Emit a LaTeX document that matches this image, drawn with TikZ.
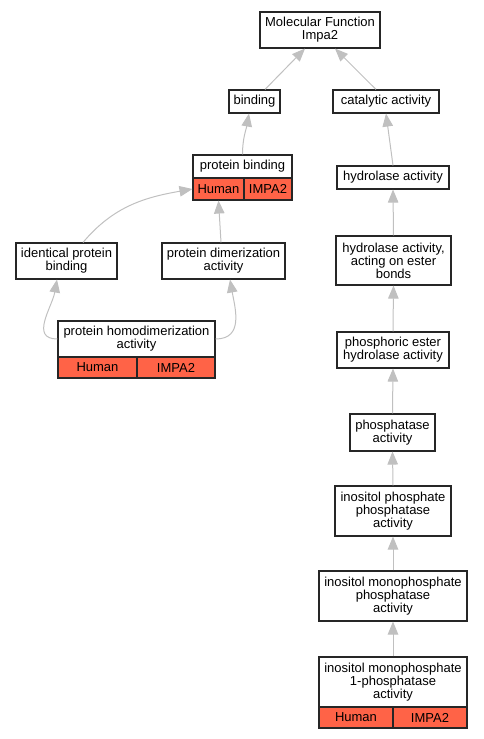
\documentclass[tikz,border=0pt]{standalone}
\usepackage{fontspec}
\setmainfont{Liberation Sans}
\usetikzlibrary{arrows.meta}

\definecolor{hitred}{HTML}{FF6347}
\definecolor{edgegray}{HTML}{C0C0C0}

\begin{document}
\begin{tikzpicture}[x = 1pt, y = -1pt,
  term/.style = {draw = black!85, line width = 1.1pt, fill = white, align = center, inner sep = 0pt, font = \fontsize{13}{13}\selectfont},
  hit/.style = {term, fill = hitred},
  link/.style = {draw = edgegray, line width = 1pt, -{Triangle[length = 13pt, width = 10.5pt]}}]

\useasboundingbox (0, 0) rectangle (483, 739);

% Root and first level
  \node[term, minimum width = 120, minimum height = 36] (mf) at (320, 30) {Molecular Function\\Impa2};
  \node[term, minimum width = 51, minimum height = 23] (bind) at (254.5, 101.5) {binding};
  \node[term, minimum width = 106, minimum height = 23] (cat) at (386, 101.5) {catalytic activity};

% Binding branch
  \node[term, minimum width = 99, minimum height = 23] (pb) at (242.5, 166.5) {protein binding};
  \node[hit, minimum width = 51, minimum height = 22] (pbh) at (218.5, 189) {Human};
  \node[hit, minimum width = 48, minimum height = 22] (pbi) at (268, 189) {IMPA2};

  \node[term, minimum width = 101, minimum height = 36] (ipb) at (66.5, 261) {identical protein\\binding};
  \node[term, minimum width = 123, minimum height = 36] (pdim) at (223.5, 261) {protein dimerization\\activity};

  \node[term, minimum width = 157, minimum height = 36] (hd) at (136.5, 339) {protein homodimerization\\activity};
  \node[hit, minimum width = 79, minimum height = 21] (hdh) at (97.5, 367.5) {Human};
  \node[hit, minimum width = 78, minimum height = 21] (hdi) at (176, 367.5) {IMPA2};

% Catalytic branch
  \node[term, minimum width = 112, minimum height = 23] (hyd) at (393, 177.5) {hydrolase activity};
  \node[term, minimum width = 115, minimum height = 49] (hae) at (393.5, 260.5) {hydrolase activity,\\acting on ester\\bonds};
  \node[term, minimum width = 112, minimum height = 36] (phe) at (393, 350) {phosphoric ester\\hydrolase activity};
  \node[term, minimum width = 85, minimum height = 37] (pha) at (392.5, 432.5) {phosphatase\\activity};
  \node[term, minimum width = 116, minimum height = 50] (ipp) at (393, 511) {inositol phosphate\\phosphatase\\activity};
  \node[term, minimum width = 148, minimum height = 50] (imp) at (393, 596) {inositol monophosphate\\phosphatase\\activity};
  \node[term, minimum width = 148, minimum height = 50] (imp1) at (393, 682) {inositol monophosphate\\1-phosphatase\\activity};
  \node[hit, minimum width = 74, minimum height = 21] (imp1h) at (356, 717.5) {Human};
  \node[hit, minimum width = 74, minimum height = 21] (imp1i) at (430, 717.5) {IMPA2};

% Edges
  \draw[link] ([xshift = 10.5pt]bind.north) -- ([xshift = -15pt]mf.south);
  \draw[link] ([xshift = -10pt]cat.north) -- ([xshift = 15pt]mf.south);
  \draw[link] (pb.north) to[out = 90, in = -100] ([xshift = -5.5pt]bind.south);
  \draw[link] ([xshift = 16.5pt]ipb.north) to[out = 50, in = 190] (pbh.west);
  \draw[link] ([xshift = -2.5pt]pdim.north) -- (pbh.south);
  \draw[link] (hd.west) to[out = 180, in = -100, looseness = 1.2] ([xshift = -9.5pt]ipb.south);
  \draw[link] (hd.east) to[out = 0, in = -80, looseness = 1.2] ([xshift = 6.5pt]pdim.south);

  \foreach \src/\dst in {hyd/cat, hae/hyd, phe/hae, pha/phe, ipp/pha, imp/ipp, imp1/imp} {
    \draw[link] (\src.north) -- (\dst.south);
  }

\end{tikzpicture}
\end{document}
